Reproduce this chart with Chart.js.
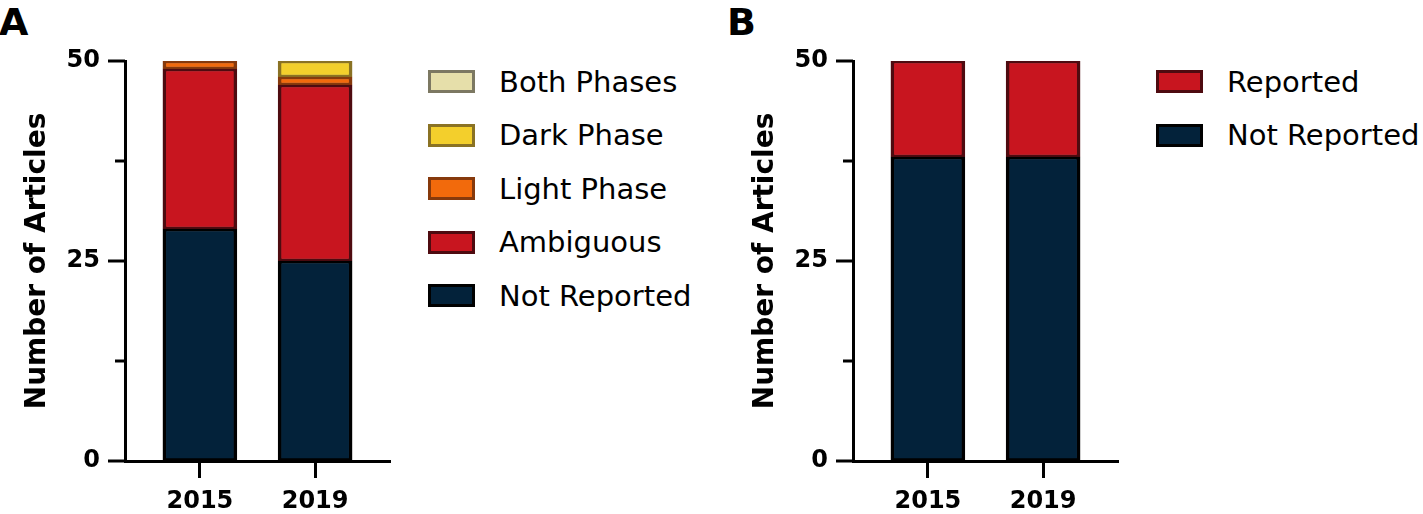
<!DOCTYPE html>
<html>
<head>
<meta charset="utf-8">
<script src="https://cdn.jsdelivr.net/npm/chart.js@4.4.1/dist/chart.umd.min.js"></script>
<style>
  body { margin: 0; background: #fff; width: 1423px; height: 514px; overflow: hidden; position: relative; font-family: "DejaVu Sans", sans-serif; }
  .panel { position: absolute; top: 0; width: 700px; height: 514px; }
  .panel canvas { position: absolute; left: 0; top: 0; }
  .letter { position: absolute; left: -1px; top: 3px; font: bold 38px "DejaVu Sans"; line-height: 38px; color: #000; }
  .legend { position: absolute; left: 428px; top: 55px; list-style: none; margin: 0; padding: 0; }
  .legend li { height: 53.5px; display: flex; align-items: center; font-size: 29px; color: #000; white-space: nowrap; }
  .legend .box { width: 47px; height: 23px; box-sizing: border-box; border: 3px solid; margin-right: 24px; }
</style>
</head>
<body>
<div class="panel" style="left:0">
  <div class="letter">A</div>
  <canvas id="chartA" width="410" height="514"></canvas>
  <ul class="legend" id="legendA"></ul>
</div>
<div class="panel" style="left:728px">
  <div class="letter">B</div>
  <canvas id="chartB" width="410" height="514"></canvas>
  <ul class="legend" id="legendB"></ul>
</div>
<script>
const years = ['2015', '2019'];

// A: testing phase
const notReportedA = [29, 25];
const ambiguousA = [20, 22];
const lightPhaseA = [1, 1];
const darkPhaseA = [0, 2];
const bothPhasesA = [0, 0];

// B: reported or not
const notReportedB = [38, 38];
const reportedB = [12, 12];

const yLabels = [0, 25, 50];

Chart.defaults.font.family = '"DejaVu Sans", sans-serif';
Chart.defaults.color = '#000';

// major ticks long, minor ticks short
const yTickMarks = {
    id: 'yTickMarks',
    afterDraw(chart) {
        const y = chart.scales.y;
        const ctx = chart.ctx;
        const left = chart.chartArea.left;
        ctx.save();
        ctx.strokeStyle = '#000';
        ctx.lineWidth = 3;
        y.ticks.forEach(t => {
            const py = y.getPixelForValue(t.value);
            const len = yLabels.includes(t.value) ? 17 : 10;
            ctx.beginPath();
            ctx.moveTo(left - len, py);
            ctx.lineTo(left, py);
            ctx.stroke();
        });
        ctx.restore();
    }
};

function series(label, data, fill, border) {
    return {
        label,
        data,
        backgroundColor: fill,
        borderColor: border,
        borderWidth: { top: 2.5, bottom: 2.5, left: 3.5, right: 3.5 },
        borderSkipped: false,
        barThickness: 74
    };
}

function createChart(id, datasets) {
    return new Chart(document.getElementById(id), {
        type: 'bar',
        data: { labels: years, datasets },
        plugins: [yTickMarks],
        options: {
            responsive: false,
            animation: false,
            layout: { padding: { top: 61, right: 20, bottom: 0, left: 0 } },
            plugins: { legend: { display: false }, tooltip: { enabled: false } },
            scales: {
                x: {
                    type: 'linear',
                    stacked: true,
                    offset: false,
                    min: 2012.4,
                    max: 2021.6,
                    afterBuildTicks: s => { s.ticks = years.map(y => ({ value: +y })); },
                    afterFit: s => { s.height = 53; },
                    ticks: {
                        callback: v => String(v),
                        font: { size: 24, weight: 'bold' },
                        padding: 9,
                        maxRotation: 0
                    },
                    grid: {
                        offset: false,
                        drawOnChartArea: false,
                        tickLength: 17,
                        tickWidth: 3,
                        tickColor: '#000'
                    },
                    border: { color: '#000', width: 3 }
                },
                y: {
                    stacked: true,
                    min: 0,
                    max: 50,
                    afterFit: s => { s.width = 125; },
                    ticks: {
                        stepSize: 12.5,
                        callback: v => yLabels.includes(v) ? v : '',
                        font: { size: 24, weight: 'bold' },
                        padding: 8
                    },
                    grid: {
                        drawOnChartArea: false,
                        tickLength: 17,
                        tickColor: 'rgba(0,0,0,0)'
                    },
                    border: { color: '#000', width: 3 },
                    title: {
                        display: true,
                        text: 'Number of Articles',
                        font: { size: 28, weight: 'bold' },
                        padding: { top: 21, bottom: 0 }
                    }
                }
            }
        }
    });
}

function buildLegend(chart, id) {
    const list = document.getElementById(id);
    chart.data.datasets.slice().reverse().forEach(ds => {
        const li = document.createElement('li');
        const box = document.createElement('span');
        box.className = 'box';
        box.style.background = ds.backgroundColor;
        box.style.borderColor = ds.borderColor;
        li.append(box, ds.label);
        list.appendChild(li);
    });
}

const chartA = createChart('chartA', [
    series('Not Reported', notReportedA, '#03223a', '#000000'),
    series('Ambiguous', ambiguousA, '#c8151f', '#4e0b10'),
    series('Light Phase', lightPhaseA, '#f26a0c', '#86390c'),
    series('Dark Phase', darkPhaseA, '#f3cf2c', '#8a7224'),
    series('Both Phases', bothPhasesA, '#e6dfaa', '#7c7862')
]);

const chartB = createChart('chartB', [
    series('Not Reported', notReportedB, '#03223a', '#000000'),
    series('Reported', reportedB, '#c8151f', '#4e0b10')
]);

buildLegend(chartA, 'legendA');
buildLegend(chartB, 'legendB');
</script>
</body>
</html>
